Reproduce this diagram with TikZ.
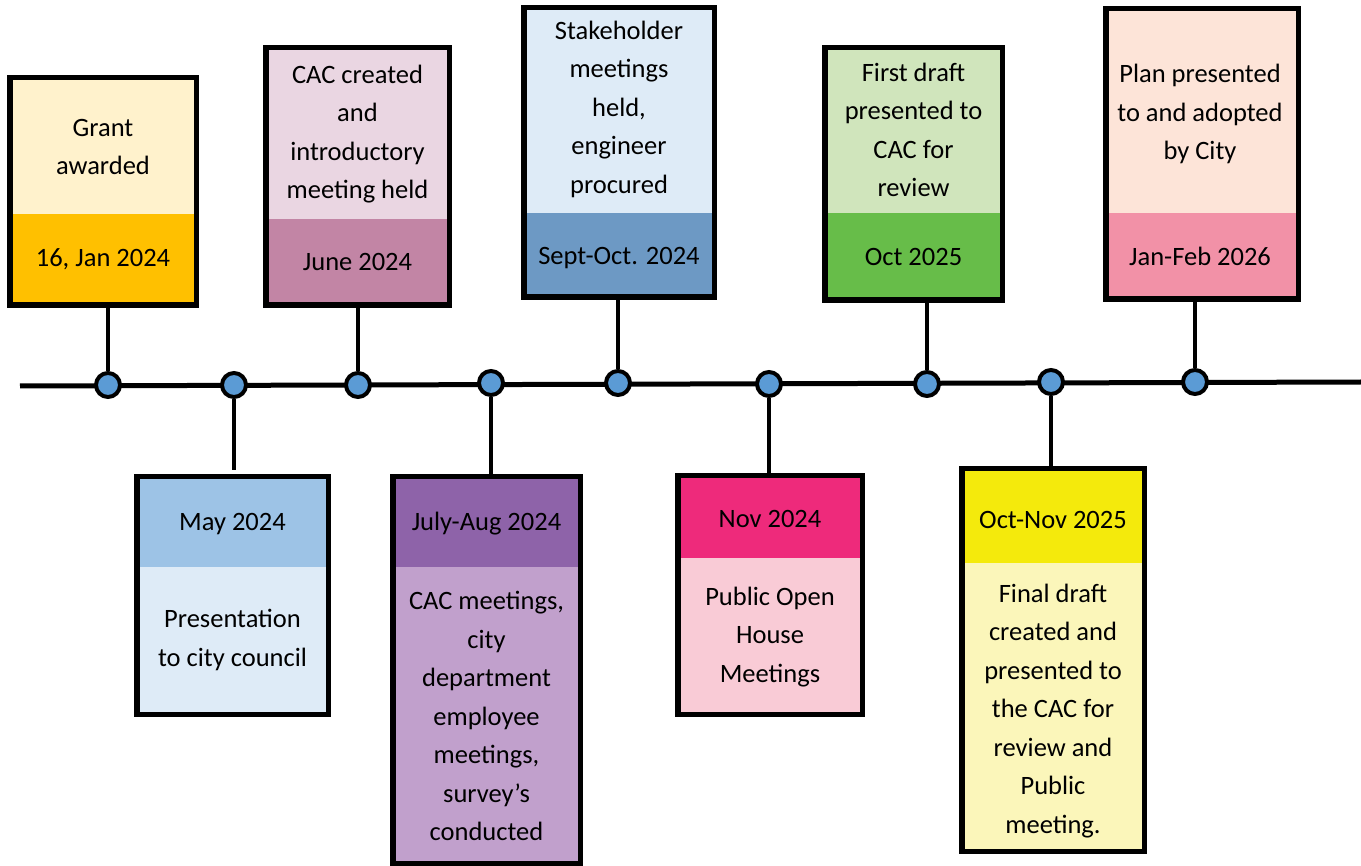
\documentclass[tikz,border=0pt]{standalone}
\usepackage{fontspec}
\setmainfont{Carlito}
\usetikzlibrary{calc}
\definecolor{aT}{HTML}{FFF2CC}\definecolor{aB}{HTML}{FFC000}
\definecolor{bH}{HTML}{9DC3E6}\definecolor{bB}{HTML}{DEEBF7}
\definecolor{cT}{HTML}{EAD6E2}\definecolor{cB}{HTML}{C285A5}
\definecolor{dH}{HTML}{8E63A9}\definecolor{dB}{HTML}{C1A0CC}
\definecolor{eT}{HTML}{DEEBF7}\definecolor{eB}{HTML}{6D99C4}
\definecolor{fH}{HTML}{EE2A7B}\definecolor{fB}{HTML}{F9CBD6}
\definecolor{gT}{HTML}{D0E5BC}\definecolor{gB}{HTML}{67BD49}
\definecolor{hH}{HTML}{F4EA0C}\definecolor{hB}{HTML}{FBF6BA}
\definecolor{iT}{HTML}{FDE4D8}\definecolor{iB}{HTML}{F291A7}
\definecolor{dotblue}{HTML}{5B9BD5}
\tikzset{
  frame/.style={draw=black, line width=5.5pt, inner sep=0pt, outer sep=0pt},
  txt/.style={align=center, inner sep=0pt, font=\fontsize{26.5}{38.5}\selectfont},
  dot/.style={circle, draw=black, fill=dotblue, line width=4pt, minimum size=24pt, inner sep=0pt},
  axis/.style={line width=5pt},
  stem/.style={line width=4.5pt}
}
\begin{document}
\begin{tikzpicture}[x=1pt,y=-1pt]
\useasboundingbox (0,0) rectangle (1361,866);

% section fills
\fill[aT] (12.5,80.5) rectangle (193.5,214);   \fill[aB] (12.5,214) rectangle (193.5,302.5);
\fill[bH] (139.5,479.5) rectangle (325.5,567); \fill[bB] (139.5,567) rectangle (325.5,711.5);
\fill[cT] (268.5,50.5) rectangle (446.5,219);  \fill[cB] (268.5,219) rectangle (446.5,302.5);
\fill[dH] (395.5,479.5) rectangle (577.5,567);  \fill[dB] (395.5,567) rectangle (577.5,860.5);
\fill[eT] (526.5,10.5) rectangle (711.5,213);  \fill[eB] (526.5,213) rectangle (711.5,294.5);
\fill[fH] (680.5,478.5) rectangle (859.5,558);  \fill[fB] (680.5,558) rectangle (859.5,711.5);
\fill[gT] (827.5,50.5) rectangle (999.5,213);  \fill[gB] (827.5,213) rectangle (999.5,297.5);
\fill[hH] (964.5,471.5) rectangle (1141.5,563); \fill[hB] (964.5,563) rectangle (1141.5,848.5);
\fill[iT] (1108.5,11.5) rectangle (1295.5,213); \fill[iB] (1108.5,213) rectangle (1295.5,296.5);

% frames
\node[frame, minimum width=186.5pt, minimum height=227.5pt] (b1) at (103,191.5) {};
\node[frame, minimum width=191.5pt, minimum height=237.5pt] (b2) at (232.5,595.5) {};
\node[frame, minimum width=183.5pt, minimum height=257.5pt] (b3) at (357.5,176.5) {};
\node[frame, minimum width=187.5pt, minimum height=386.5pt] (b4) at (486.5,670) {};
\node[frame, minimum width=190.5pt, minimum height=289.5pt] (b5) at (619,152.5) {};
\node[frame, minimum width=184.5pt, minimum height=238.5pt] (b6) at (770,595) {};
\node[frame, minimum width=177.5pt, minimum height=252.5pt] (b7) at (913.5,174) {};
\node[frame, minimum width=182.5pt, minimum height=382.5pt] (b8) at (1053,660) {};
\node[frame, minimum width=192.5pt, minimum height=290.5pt] (b9) at (1202,154) {};

% texts
\node[txt] (t1) at (103,147) {Grant\\awarded};
\node[txt] (d1) at (103,259) {16, Jan 2024};
\node[txt] (d2) at (232.5,524) {May 2024};
\node[txt] (t2) at (232.5,640) {Presentation\\to city council};
\node[txt] (t3) at (357.5,134) {CAC created\\and\\introductory\\meeting held};
\node[txt] (d3) at (357.5,262) {June 2024};
\node[txt] (d4) at (486.5,524) {July-Aug 2024};
\node[txt] (t4) at (486.5,716) {CAC meetings,\\city\\department\\employee\\meetings,\\survey’s\\conducted};
\node[txt] (t5) at (619,109) {Stakeholder\\meetings\\held,\\engineer\\procured};
\node[txt] (d5) at (619,258) {Sept-Oct. 2024};
\node[txt] (d6) at (770,519) {Nov 2024};
\node[txt] (t6) at (770,637) {Public Open\\House\\Meetings};
\node[txt] (t7) at (913.5,130) {First draft\\presented to\\CAC for\\review};
\node[txt] (d7) at (913.5,257) {Oct 2025};
\node[txt] (d8) at (1053,520) {Oct-Nov 2025};
\node[txt] (t8) at (1053,711) {Final draft\\created and\\presented to\\the CAC for\\review and\\Public\\meeting.};
\node[txt] (t9) at (1200,114) {Plan presented\\to and adopted\\by City};
\node[txt] (d9) at (1200,256) {Jan-Feb 2026};

% timeline
\coordinate (L) at (20,386);
\coordinate (R) at (1361,382);
\draw[axis] (L) -- (R);

% dots
\node[dot] (c1) at (108,385) {};
\node[dot] (c2) at (234,385) {};
\node[dot] (c3) at (358,385) {};
\node[dot] (c4) at (491,383) {};
\node[dot] (c5) at (618,383) {};
\node[dot] (c6) at (769,384) {};
\node[dot] (c7) at (927,384) {};
\node[dot] (c8) at (1051,382) {};
\node[dot] (c9) at (1195,382) {};

% stems
\coordinate (e2) at (234,470);
\begin{scope}[on background layer/.style={}]
\draw[stem] (b1.south -| c1) -- (c1.north);
\draw[stem] (c2.south) -- (e2);
\draw[stem] (b3.south -| c3) -- (c3.north);
\draw[stem] (c4.south) -- (b4.north -| c4);
\draw[stem] (b5.south -| c5) -- (c5.north);
\draw[stem] (c6.south) -- (b6.north -| c6);
\draw[stem] (b7.south -| c7) -- (c7.north);
\draw[stem] (c8.south) -- (b8.north -| c8);
\draw[stem] (b9.south -| c9) -- (c9.north);
\end{scope}
\end{tikzpicture}
\end{document}
